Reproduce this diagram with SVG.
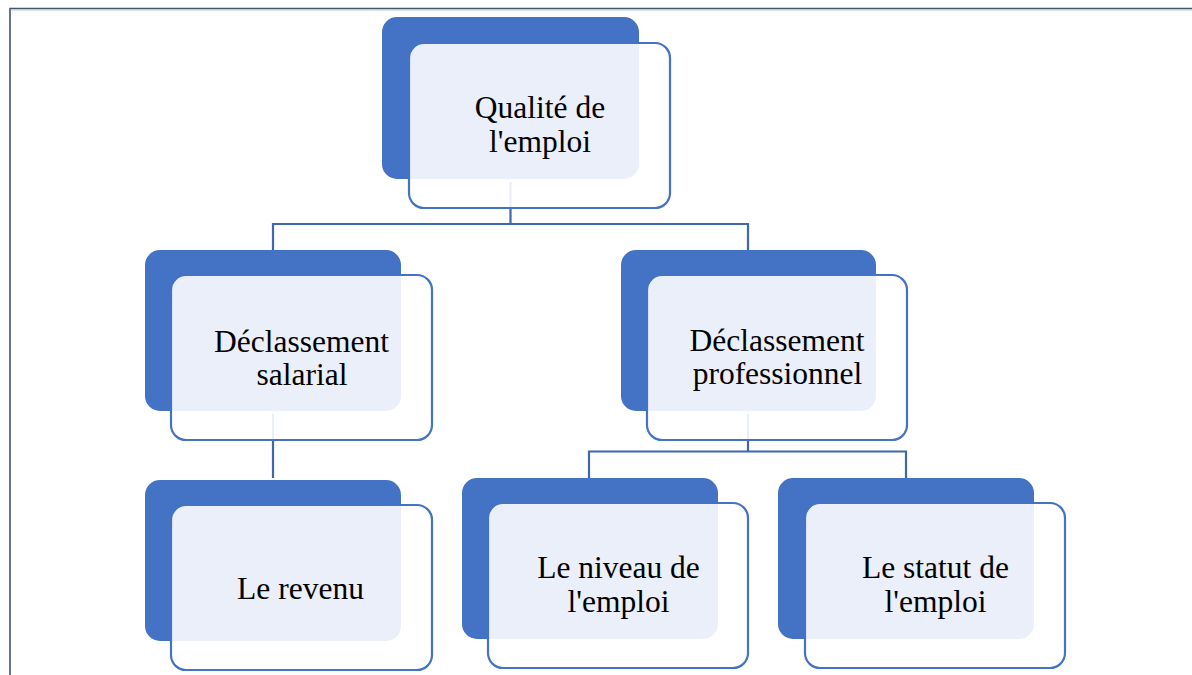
<svg xmlns="http://www.w3.org/2000/svg" width="1192" height="675" viewBox="0 0 1192 675">
<style>
.back{fill:#4472C4}
.front{fill:#FFFFFF;fill-opacity:0.89;stroke:#4472C4;stroke-width:2.2}
.lbl{font-family:"Liberation Serif","Times New Roman",serif;font-size:31.5px;fill:#000;text-anchor:middle}
.conn{fill:none;stroke:#3F66AE;stroke-width:2.2}
.frame{fill:none;stroke:#44546A;stroke-width:1.6}
</style>
<rect width="1192" height="675" fill="#FFFFFF"/>
<g id="frame">
<path class="frame" d="M10 675 V8.5 H1192"/>
<line x1="10.8" y1="10" x2="1192" y2="10" stroke="#B8C4D6" stroke-width="1"/>
</g>
<g id="connectors">
<path class="conn" d="M510.5 182 V224 M273 250 V224 H748 V250"/>
<path class="conn" d="M273 414 V478"/>
<path class="conn" d="M748 414 V451.5 M589 478 V451.5 H906 V478"/>
</g>
<g id="node-qualite">
<rect class="back" x="382" y="17" width="257" height="162" rx="15"/>
<rect class="front" x="409" y="43" width="261" height="165" rx="15"/>
<text class="lbl" x="540" y="118">Qualité de</text>
<text class="lbl" x="540" y="152">l'emploi</text>
</g>
<g id="node-salarial">
<rect class="back" x="145" y="250" width="256" height="161" rx="15"/>
<rect class="front" x="171" y="275" width="261" height="165" rx="15"/>
<text class="lbl" x="301.5" y="352">Déclassement</text>
<text class="lbl" x="302" y="385">salarial</text>
</g>
<g id="node-professionnel">
<rect class="back" x="621" y="250" width="255" height="161" rx="15"/>
<rect class="front" x="647" y="275" width="260" height="165" rx="15"/>
<text class="lbl" x="777" y="351">Déclassement</text>
<text class="lbl" x="777.5" y="384">professionnel</text>
</g>
<g id="node-revenu">
<rect class="back" x="145" y="480" width="256" height="161" rx="15"/>
<rect class="front" x="171" y="505" width="261" height="165" rx="15"/>
<text class="lbl" x="300.5" y="599">Le revenu</text>
</g>
<g id="node-niveau">
<rect class="back" x="462" y="478" width="256" height="161" rx="15"/>
<rect class="front" x="488" y="503" width="260" height="165" rx="15"/>
<text class="lbl" x="618.5" y="578">Le niveau de</text>
<text class="lbl" x="618.5" y="612">l'emploi</text>
</g>
<g id="node-statut">
<rect class="back" x="778" y="478" width="256" height="161" rx="15"/>
<rect class="front" x="805" y="503" width="260" height="165" rx="15"/>
<text class="lbl" x="935.5" y="578">Le statut de</text>
<text class="lbl" x="935.5" y="612">l'emploi</text>
</g>
</svg>
